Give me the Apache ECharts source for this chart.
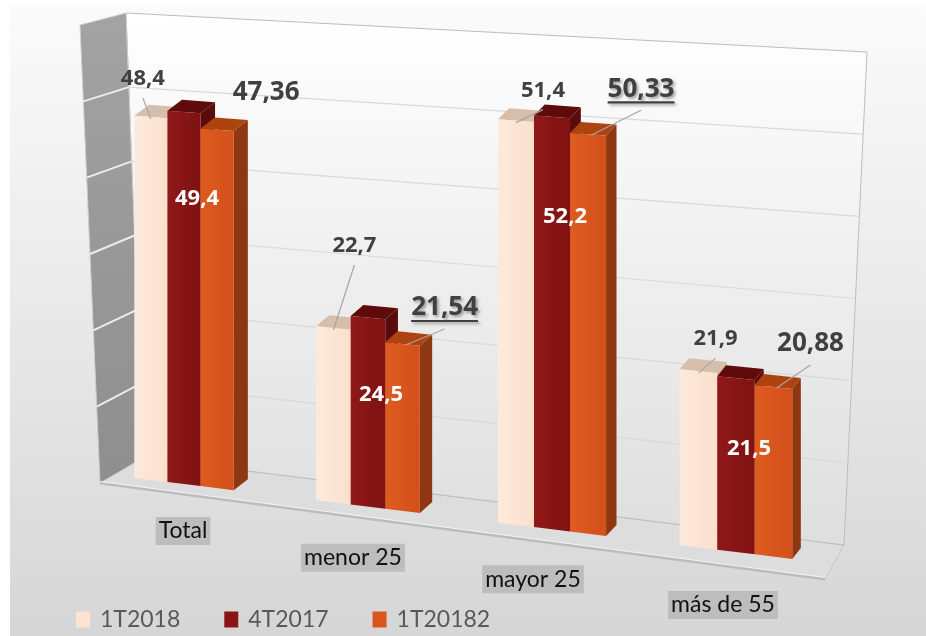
<!DOCTYPE html>
<html>
<head>
<meta charset="utf-8">
<script src="https://cdn.jsdelivr.net/npm/echarts@6/dist/echarts.min.js"></script>
<style>
  html, body { margin: 0; padding: 0; background: #fff; }
  #chart { width: 926px; height: 636px; }
</style>
</head>
<body>
<div id="chart"></div>
<script>
// datos
const categories = ['Total', 'menor 25', 'mayor 25', 'más de 55'];
const serie1T2018 = [48.4, 22.7, 51.4, 21.9];
const serie4T2017 = [49.4, 24.5, 52.2, 21.5];
const serie1T20182 = [47.36, 21.54, 50.33, 20.88];
const yTicks = [0, 10, 20, 30, 40, 50, 60];

const FONT = 'Lato, "Open Sans", sans-serif';
const BOLD_FONT = '"Open Sans", "Noto Sans", sans-serif';
const yMax = yTicks[yTicks.length - 1];

// posiciones de etiquetas (ajustes manuales, como en el original)
const offLabel0 = [[-8, -38], [21, -82], [27, -30], [17, -32]];
const offLabel2 = [[49, -37], [42, -36], [53, -45], [37, -43]];
const leader2 = [false, true, true, true];
const underline2 = [false, true, true, false];
const fracLabel1 = [0.77, 0.6, 0.76, 0.6];
const offCat = [[-1, 47], [-15, 51], [-19, 50], [-13, 53]];

const fmt = v => String(v).replace('.', ',');

const measureCtx = document.createElement('canvas').getContext('2d');
function textWidth(t, font) {
  measureCtx.font = font;
  return measureCtx.measureText(t).width;
}

// perspectiva aproximada del grafico 3D
function persp(p, y0) {
  const x = p[0];
  const base = 480 + 0.123 * (x - 151);
  const k = (7.5 + 0.001 * (x - 151)) / 7.6;
  return [x, base - (y0 - p[1]) * k];
}
function depth(x) {
  return [15 - 0.01 * (x - 150), -11];
}
const lerp = (a, b, t) => [a[0] + (b[0] - a[0]) * t, a[1] + (b[1] - a[1]) * t];

// marco: pared del fondo, pared lateral y suelo
const WALL = { tl: [126, 13], tr: [867, 52], br: [844, 545], bl: [143, 458] };
const SIDE = { top: [80, 25], bottom: [100, 483] };
const FRONT_R = [825, 579];

function renderWall(params, api) {
  const v = api.value(1);
  const y0 = api.coord([0, 0])[1];
  const yTop = api.coord([0, yMax])[1];
  const t = (y0 - api.coord([0, v])[1]) / (y0 - yTop);
  const children = [];
  if (params.dataIndex === 0) {
    children.push({
      type: 'polygon',
      shape: { points: [SIDE.bottom, WALL.bl, WALL.br, FRONT_R] },
      style: { fill: '#dddddd', stroke: '#c6c6c6', lineWidth: 1 }
    });
    children.push({
      type: 'polygon',
      shape: { points: [WALL.tl, WALL.tr, WALL.br, WALL.bl] },
      style: {
        fill: new echarts.graphic.LinearGradient(0, 0, 0, 1, [
          { offset: 0, color: '#ffffff' }, { offset: 1, color: '#dedede' }
        ]),
        stroke: '#bdbdbd', lineWidth: 1
      }
    });
    children.push({
      type: 'polygon',
      shape: { points: [SIDE.top, WALL.tl, WALL.bl, SIDE.bottom] },
      style: {
        fill: new echarts.graphic.LinearGradient(0, 0, 0, 1, [
          { offset: 0, color: '#a3a3a3' }, { offset: 1, color: '#8e8e8e' }
        ]),
        stroke: '#cfcfcf', lineWidth: 1
      }
    });
    children.push({
      type: 'polyline',
      shape: { points: [SIDE.bottom, FRONT_R] },
      style: { stroke: '#bcbcbc', lineWidth: 3, fill: null }
    });
    children.push({
      type: 'polyline',
      shape: { points: [[SIDE.bottom[0], SIDE.bottom[1] - 1.5], [FRONT_R[0], FRONT_R[1] - 1.5]] },
      style: { stroke: '#f5f5f5', lineWidth: 1, fill: null }
    });
  }
  if (t > 0 && t < 1) {
    children.push({
      type: 'line',
      shape: (() => { const a = lerp(WALL.bl, WALL.tl, t), b = lerp(WALL.br, WALL.tr, t);
        return { x1: a[0], y1: a[1], x2: b[0], y2: b[1] }; })(),
      style: { stroke: '#d9d9d9', lineWidth: 1.2 }
    });
    children.push({
      type: 'line',
      shape: (() => { const a = lerp(SIDE.bottom, SIDE.top, t), b = lerp(WALL.bl, WALL.tl, t);
        return { x1: a[0], y1: a[1], x2: b[0], y2: b[1] }; })(),
      style: { stroke: '#ececec', lineWidth: 2 }
    });
  }
  return { type: 'group', children: children };
}

const seriesDefs = [
  { name: '1T2018', data: serie1T2018, color: '#fde4d2', front: ['#fdeadc', '#fbdfcb'], top: '#d6bead', side: '#cdb3a0' },
  { name: '4T2017', data: serie4T2017, color: '#8a1515', front: ['#901818', '#7f1212'], top: '#5f0b0b', side: '#5a0b0b' },
  { name: '1T20182', data: serie1T20182, color: '#d9551c', front: ['#de5b20', '#d2501a'], top: '#ad430f', side: '#8d3812' }
];

function renderBar(si) {
  const def = seriesDefs[si];
  return function (params, api) {
    const i = params.dataIndex;
    const ci = api.value(0), v = api.value(1);
    const c0 = api.coord([ci, 0]);
    const c1 = api.coord([ci, v]);
    const y0 = c0[1];
    const band = api.size([1, 0])[0];
    const bw = band * 0.18 * (1 + 0.00024 * (c0[0] - 184));
    const xl = c0[0] + (si - 1.5) * bw, xr = xl + bw;
    const bl = persp([xl, y0], y0), br = persp([xr, y0], y0);
    const tl = persp([xl, c1[1]], y0), tr = persp([xr, c1[1]], y0);
    const d = depth(xr);
    const add = p => [p[0] + d[0], p[1] + d[1]];
    const tc = [(tl[0] + tr[0]) / 2, (tl[1] + tr[1]) / 2];
    const children = [
      { type: 'polygon', shape: { points: [tr, br, add(br), add(tr)] }, style: { fill: def.side } },
      { type: 'polygon', shape: { points: [tl, tr, add(tr), add(tl)] }, style: { fill: def.top } },
      { type: 'polygon', shape: { points: [bl, br, tr, tl] },
        style: { fill: new echarts.graphic.LinearGradient(0, 0, 1, 0, [
          { offset: 0, color: def.front[0] }, { offset: 1, color: def.front[1] }
        ]) } }
    ];
    const txt = fmt(def.data[i]);
    if (si === 0) {
      const o = offLabel0[i];
      const p = [tc[0] + o[0], tc[1] + o[1]];
      children.push({ type: 'line', z2: 100,
        shape: { x1: p[0], y1: p[1] + 19, x2: tc[0], y2: tc[1] + 2 },
        style: { stroke: '#a6a6a6', lineWidth: 1.2 } });
      children.push({ type: 'text', z2: 101, x: p[0], y: p[1],
        style: { text: txt, fill: '#404040', fontSize: 22, fontWeight: 'bold', fontFamily: BOLD_FONT,
          align: 'center', verticalAlign: 'middle' } });
    } else if (si === 1) {
      const xm = (xl + xr) / 2 + 13;
      const p = persp([xm, api.coord([ci, v * fracLabel1[i]])[1]], y0);
      children.push({ type: 'text', z2: 101, x: p[0], y: p[1],
        style: { text: txt, fill: '#ffffff', fontSize: 22, fontWeight: 'bold', fontFamily: BOLD_FONT,
          align: 'center', verticalAlign: 'middle' } });
    } else {
      const o = offLabel2[i];
      const p = [tc[0] + o[0], tc[1] + o[1]];
      if (leader2[i]) {
        children.push({ type: 'line', z2: 100,
          shape: { x1: p[0], y1: p[1] + 21, x2: tc[0] + 3, y2: tc[1] + 1 },
          style: { stroke: '#a6a6a6', lineWidth: 1.2 } });
      }
      const shadow = underline2[i];
      children.push({ type: 'text', z2: 101, x: p[0], y: p[1],
        style: { text: txt, fill: '#404040', fontSize: 26, fontWeight: 'bold', fontFamily: BOLD_FONT,
          align: 'center', verticalAlign: 'middle',
          textShadowColor: shadow ? 'rgba(0,0,0,0.35)' : 'transparent',
          textShadowBlur: shadow ? 3 : 0, textShadowOffsetX: shadow ? 2 : 0, textShadowOffsetY: shadow ? 2 : 0 } });
      if (underline2[i]) {
        const w = textWidth(txt, 'bold 26px "Open Sans"');
        children.push({ type: 'line', z2: 101,
          shape: { x1: p[0] - w / 2, y1: p[1] + 13, x2: p[0] + w / 2, y2: p[1] + 13 },
          style: { stroke: '#404040', lineWidth: 2.2,
            shadowColor: 'rgba(0,0,0,0.35)', shadowBlur: 3, shadowOffsetX: 2, shadowOffsetY: 2 } });
      }
    }
    return { type: 'group', children: children };
  };
}

function renderCat(params, api) {
  const c0 = api.coord([api.value(0), 0]);
  const p = persp(c0, c0[1]);
  const o = offCat[params.dataIndex];
  return {
    type: 'text', x: p[0] + o[0], y: p[1] + o[1],
    style: { text: categories[params.dataIndex], fill: '#111111', fontSize: 23, fontFamily: FONT,
      backgroundColor: '#bdbdbd', padding: [3, 3, 2, 3], align: 'center', verticalAlign: 'middle' }
  };
}

const chart = echarts.init(document.getElementById('chart'));

const series = [
  { type: 'custom', name: 'pared', z: 1, silent: true,
    data: yTicks.map(v => [0, v]), renderItem: renderWall }
];
seriesDefs.forEach((def, si) => {
  series.push({
    type: 'custom', name: def.name, z: 2,
    itemStyle: { color: def.color },
    data: def.data.map((v, i) => [i, v]),
    renderItem: renderBar(si)
  });
});
series.push({ type: 'custom', name: 'categorias', z: 3, silent: true,
  data: categories.map((c, i) => [i, 0]), renderItem: renderCat });

chart.setOption({
  backgroundColor: '#ffffff',
  animation: false,
  graphic: {
    elements: [{
      type: 'rect', z: -10, silent: true,
      shape: { x: 10, y: 5, width: 916, height: 631 },
      style: { fill: new echarts.graphic.LinearGradient(0, 0, 0, 1, [
        { offset: 0, color: '#fbfbfb' }, { offset: 1, color: '#d6d6d6' }
      ]) }
    }]
  },
  grid: { left: 92, width: 736, top: 24, height: 456 },
  xAxis: { type: 'category', data: categories, show: false },
  yAxis: { type: 'value', min: 0, max: yMax, interval: 10, show: false },
  legend: {
    data: seriesDefs.map(d => d.name),
    left: 71, top: 603,
    icon: 'rect', itemWidth: 14, itemHeight: 16, itemGap: 44,
    textStyle: { fontFamily: FONT, fontSize: 23, color: '#595959', padding: [0, 0, 0, 5] }
  },
  series: series
});
</script>
</body>
</html>
